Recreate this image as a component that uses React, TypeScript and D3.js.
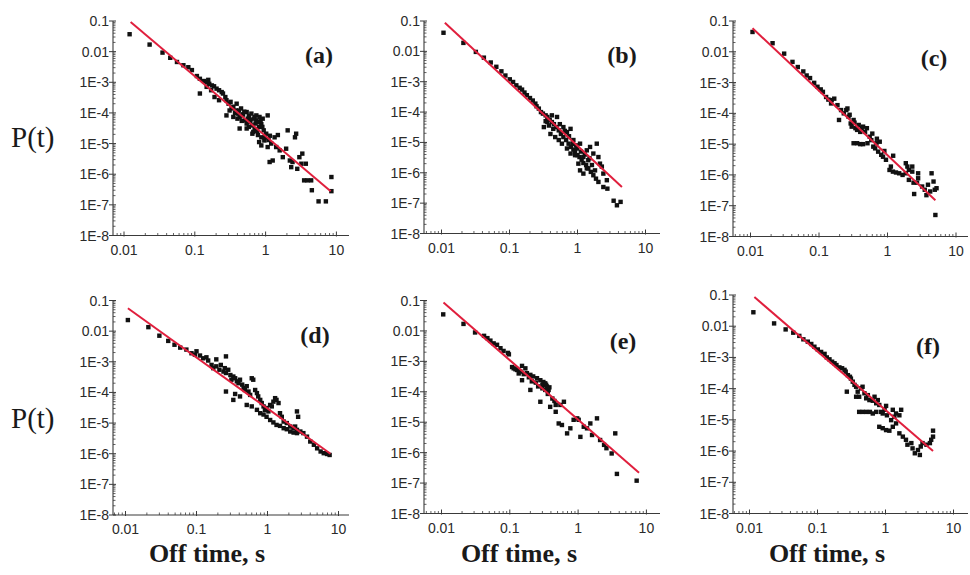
import React from "react";
import * as d3 from "d3";

// ---------- DATA ----------
const xTickValues = [0.01, 0.1, 1, 10];
const xTickLabels = ["0.01", "0.1", "1", "10"];
const yTickValues = [0.1, 0.01, 1e-3, 1e-4, 1e-5, 1e-6, 1e-7, 1e-8];
const yTickLabels = ["0.1", "0.01", "1E-3", "1E-4", "1E-5", "1E-6", "1E-7", "1E-8"];
const panelNames = ["(a)", "(b)", "(c)", "(d)", "(e)", "(f)"];
const yTitle = "P(t)";
const xTitle = "Off time, s";

const aPoints: [number, number][] = [
  [0.012, 0.037], [0.023, 0.017], [0.035, 0.0093], [0.045, 0.0063], [0.056, 0.0046], [0.069, 0.0036],
  [0.081, 0.0031], [0.091, 0.0025], [0.107, 0.0016], [0.118, 0.0013], [0.135, 0.0011], [0.147, 0.001],
  [0.16, 8.9e-4], [0.174, 7.9e-4], [0.118, 4.3e-4], [0.187, 7.4e-4], [0.203, 6.2e-4], [0.22, 5.5e-4],
  [0.24, 4.8e-4], [0.27, 3.3e-4], [0.28, 2.6e-4], [0.3, 2.0e-4], [0.32, 2.3e-4], [0.35, 1.6e-4],
  [0.38, 1.2e-4], [0.28, 8.3e-5], [0.41, 9.5e-5], [0.43, 7.4e-5], [0.47, 8.3e-5], [0.51, 5.7e-5],
  [0.54, 4.5e-5], [0.56, 6.5e-5], [0.61, 5.0e-5], [0.65, 3.9e-5], [0.7, 7.4e-5], [0.74, 5.7e-5],
  [0.81, 3.5e-5], [0.87, 4.3e-5], [0.94, 2.7e-5], [1.02, 2.1e-5], [1.07, 8.3e-5], [0.43, 3.1e-5],
  [0.65, 2.1e-5], [0.81, 1.12e-5], [0.87, 8.7e-6], [0.96, 1.26e-5], [1.07, 7.7e-6], [1.2, 1.0e-5],
  [1.34, 1.6e-5], [1.41, 7.7e-6], [1.58, 6.0e-6], [1.49, 1.9e-5], [1.75, 3.6e-6], [1.26, 2.8e-6],
  [1.14, 2.5e-6], [1.95, 6.8e-6], [2.05, 2.7e-5], [2.2, 2.8e-6], [2.4, 2.5e-6], [2.6, 1.6e-5],
  [2.7, 2.1e-5], [3.0, 3.6e-6], [3.2, 2.2e-6], [3.3, 4.7e-6], [3.7, 2.2e-6], [3.5, 6.3e-7],
  [3.9, 6.3e-7], [4.4, 6.3e-7], [4.5, 3.0e-7], [5.6, 1.3e-7], [7.1, 1.3e-7], [8.5, 8.1e-7],
  [8.5, 2.8e-7], [2.3, 1.7e-6], [2.8, 1.5e-6], [0.39, 2.0e-4], [0.45, 1.4e-4], [0.54, 1.07e-4],
  [0.63, 9.5e-5], [0.74, 8.3e-5], [0.82, 7.4e-5], [0.91, 6.5e-5], [0.67, 2.4e-5], [0.78, 1.9e-5],
  [0.87, 1.6e-5], [0.54, 3.1e-5], [0.35, 7.4e-5], [0.31, 1.2e-4], [0.25, 4.3e-4], [0.22, 2.6e-4],
  [0.19, 3.3e-4], [0.155, 0.0012], [0.17, 5.5e-4], [0.147, 7.1e-4], [0.33, 1.4e-4], [0.37, 1.0e-4],
  [0.42, 1.2e-4], [0.48, 9.0e-5], [0.5, 1.1e-4], [0.58, 8.0e-5], [0.6, 6.0e-5], [0.68, 6.5e-5],
  [0.72, 4.5e-5], [0.78, 5.0e-5], [0.85, 5.5e-5], [0.9, 3.5e-5], [0.58, 3.5e-5], [0.7, 3.0e-5],
  [0.76, 2.6e-5], [0.46, 5.5e-5], [0.4, 6.5e-5], [0.98, 1.6e-5], [1.1, 1.3e-5], [1.15, 1.8e-5],
];
const aFit: [number, number][] = [[0.0124, 0.093], [8.3, 2.8e-7]];

const bPoints: [number, number][] = [
  [0.0107, 0.041], [0.021, 0.019], [0.032, 0.0096], [0.042, 0.0062], [0.053, 0.0043], [0.064, 0.0031],
  [0.076, 0.0022], [0.087, 0.0016], [0.101, 0.0012], [0.113, 9.8e-4], [0.126, 7.6e-4], [0.141, 6.3e-4],
  [0.153, 5.5e-4], [0.166, 4.4e-4], [0.18, 3.6e-4], [0.2, 2.9e-4], [0.22, 2.4e-4], [0.24, 1.9e-4],
  [0.25, 1.55e-4], [0.27, 1.3e-4], [0.29, 1.0e-4], [0.31, 8.9e-5], [0.34, 7.8e-5], [0.36, 6.9e-5],
  [0.39, 5.6e-5], [0.42, 4.7e-5], [0.45, 4.0e-5], [0.49, 3.2e-5], [0.53, 2.5e-5], [0.57, 1.9e-5],
  [0.62, 1.5e-5], [0.68, 1.2e-5], [0.74, 9.1e-6], [0.8, 7.1e-6], [0.87, 5.8e-6], [0.92, 4.9e-6],
  [1.0, 3.8e-6], [1.07, 3.3e-6], [1.15, 2.7e-6], [1.22, 2.1e-6], [1.34, 1.8e-6], [1.44, 1.4e-6],
  [1.57, 1.07e-6], [1.71, 8.3e-7], [1.87, 6.4e-7], [2.03, 5.0e-7], [2.4, 3.4e-7], [2.75, 3.0e-7],
  [3.4, 1.2e-7], [3.8, 8.5e-8], [4.3, 1.1e-7],
  [0.32, 3.2e-5], [0.36, 4.7e-5], [0.42, 7.8e-5], [0.5, 6.9e-5], [0.53, 1.2e-5], [0.59, 9.1e-6],
  [0.62, 3.2e-5], [0.7, 2.2e-5], [0.79, 2.8e-5], [0.7, 6.3e-6], [0.87, 1.2e-5], [0.98, 6.3e-6],
  [1.09, 9.1e-6], [1.22, 3.3e-6], [1.37, 5.5e-6], [1.44, 2.6e-6], [1.53, 7.1e-6], [1.71, 4.3e-6],
  [1.92, 9.1e-6], [2.03, 3.3e-6], [2.14, 2.0e-6], [2.28, 1.6e-6], [1.09, 1.2e-6], [1.22, 9.4e-7],
  [1.37, 1.4e-6], [1.63, 1.8e-6], [1.81, 1.2e-6], [2.4, 9.4e-7], [2.7, 5.7e-7], [0.4, 1.9e-5],
  [0.47, 1.5e-5], [0.79, 4.3e-6], [0.92, 3.8e-6], [1.03, 2.0e-6], [0.34, 5.0e-5], [0.38, 3.6e-5],
  [0.44, 2.8e-5], [0.55, 4.0e-5], [0.65, 2.4e-5], [0.75, 1.6e-5], [0.85, 9.0e-6], [0.95, 8.0e-6],
  [1.12, 5.0e-6], [1.28, 4.0e-6], [1.5, 3.0e-6],
];
const bFit: [number, number][] = [[0.0112, 0.088], [4.5, 3.4e-7]];

const cPoints: [number, number][] = [
  [0.0107, 0.044], [0.021, 0.019], [0.031, 0.0087], [0.041, 0.0047], [0.049, 0.0032], [0.059, 0.0023],
  [0.066, 0.0017], [0.074, 0.0014], [0.085, 9.8e-4], [0.095, 7.3e-4], [0.106, 6.0e-4], [0.114, 5.0e-4],
  [0.127, 3.4e-4], [0.137, 2.8e-4], [0.153, 2.7e-4], [0.167, 3.0e-4], [0.15, 2.1e-4], [0.186, 1.85e-4],
  [0.196, 6.1e-5], [0.21, 1.28e-4], [0.23, 1.0e-4], [0.25, 1.28e-4], [0.26, 1.44e-4], [0.27, 7.8e-5],
  [0.29, 4.7e-5], [0.3, 3.7e-5], [0.32, 6.1e-5], [0.34, 3.3e-5], [0.36, 2.9e-5], [0.38, 4.2e-5],
  [0.4, 2.5e-5], [0.42, 3.3e-5], [0.44, 3.7e-5], [0.47, 2.5e-5], [0.5, 3.3e-5], [0.36, 1.07e-5],
  [0.32, 1.07e-5], [0.4, 1.0e-5], [0.44, 1.0e-5], [0.51, 1.07e-5], [0.55, 1.74e-5], [0.58, 1.35e-5],
  [0.62, 8.3e-6], [0.66, 7.3e-6], [0.69, 1.07e-5], [0.73, 5.7e-6], [0.77, 1.2e-5], [0.81, 4.5e-6],
  [0.86, 3.9e-6], [0.95, 3.1e-6], [1.07, 1.45e-6], [1.12, 1.87e-6], [1.2, 1.28e-6], [1.33, 1.2e-6],
  [1.48, 1.13e-6], [1.66, 1.0e-6], [1.85, 2.4e-6], [1.95, 1.87e-6], [2.05, 1.45e-6], [2.3, 1.28e-6],
  [2.4, 5.6e-7], [2.7, 5.6e-7], [2.8, 7.8e-7], [3.2, 4.2e-7], [3.5, 3.3e-7], [3.7, 2.2e-7],
  [4.2, 2.9e-7], [4.9, 3.3e-7], [4.4, 1.13e-6], [4.7, 6.1e-7], [5.2, 3.7e-7], [2.45, 2.4e-7],
  [5.0, 5.0e-8], [2.3, 1.87e-6], [2.8, 1.13e-6], [3.9, 4.8e-7], [1.85, 1.13e-6], [2.05, 6.9e-7],
  [1.21, 4.2e-6], [0.28, 9.0e-5], [0.33, 5.0e-5], [0.6, 2.2e-5], [0.7, 1.5e-5], [0.9, 6.0e-6],
];
const cFit: [number, number][] = [[0.0107, 0.058], [5.0, 1.5e-7]];

const dPoints: [number, number][] = [
  [0.0108, 0.023], [0.021, 0.0135], [0.03, 0.0071], [0.04, 0.0048], [0.049, 0.0036], [0.059, 0.0029],
  [0.072, 0.0025], [0.085, 0.0019], [0.095, 0.0017], [0.1, 0.0022], [0.112, 0.0016], [0.124, 0.0013],
  [0.138, 0.0014], [0.146, 0.0011], [0.163, 7.9e-4], [0.172, 6.2e-4], [0.19, 7.1e-4], [0.21, 5.5e-4],
  [0.22, 7.9e-4], [0.24, 4.8e-4], [0.25, 6.2e-4], [0.26, 4.3e-4], [0.28, 5.5e-4], [0.3, 3.7e-4],
  [0.31, 2.6e-4], [0.33, 3.3e-4], [0.35, 2.9e-4], [0.37, 2.3e-4], [0.39, 2.0e-4], [0.41, 2.6e-4],
  [0.44, 1.8e-4], [0.46, 1.4e-4], [0.48, 1.2e-4], [0.51, 1.6e-4], [0.54, 1.07e-4], [0.57, 8.3e-5],
  [0.6, 2.9e-4], [0.63, 2.6e-4], [0.67, 1.2e-4], [0.71, 9.5e-5], [0.74, 7.4e-5], [0.79, 5.7e-5],
  [0.83, 4.5e-5], [0.88, 3.5e-5], [0.92, 2.7e-5], [0.97, 3.1e-5], [1.03, 2.4e-5], [1.09, 3.9e-5],
  [1.15, 3.5e-5], [1.21, 5.0e-5], [1.28, 6.5e-5], [1.34, 5.7e-5], [1.43, 4.5e-5], [1.5, 2.1e-5],
  [1.59, 1.6e-5], [1.69, 1.12e-5], [1.87, 1.0e-5], [2.09, 7.7e-6], [2.33, 6.8e-6], [2.45, 7.7e-6],
  [2.6, 6.0e-6], [2.7, 1.6e-5], [2.6, 2.4e-5], [2.9, 5.3e-6], [3.2, 4.7e-6], [3.6, 3.6e-6],
  [4.0, 2.5e-6], [4.5, 1.96e-6], [5.0, 1.5e-6], [5.6, 1.18e-6], [6.2, 1.04e-6], [6.9, 9.8e-7],
  [7.5, 9.1e-7],
  [0.26, 1.07e-4], [0.33, 5.7e-5], [0.35, 8.9e-5], [0.41, 7.4e-5], [0.51, 3.9e-5], [0.6, 3.5e-5],
  [0.71, 2.7e-5], [0.79, 2.1e-5], [0.88, 1.9e-5], [0.97, 1.6e-5], [1.09, 1.26e-5], [1.21, 1.05e-5],
  [1.34, 8.7e-6], [1.5, 8.1e-6], [1.69, 6.8e-6], [1.87, 6.3e-6], [2.09, 5.3e-6], [2.33, 4.9e-6],
  [2.6, 4.7e-6], [0.19, 0.0012], [0.26, 0.0015],
];
const dFit: [number, number][] = [[0.0108, 0.056], [7.7, 1.0e-6]];

const ePoints: [number, number][] = [
  [0.0106, 0.035], [0.021, 0.017], [0.031, 0.0089], [0.042, 0.0069], [0.047, 0.0058], [0.052, 0.0048],
  [0.058, 0.0039], [0.065, 0.0035], [0.073, 0.0027], [0.081, 0.0022], [0.094, 0.0019], [0.097, 0.0017],
  [0.114, 5.9e-4], [0.128, 5.2e-4], [0.143, 4.6e-4], [0.151, 7.1e-4], [0.169, 5.9e-4], [0.178, 4.1e-4],
  [0.2, 3.6e-4], [0.22, 3.2e-4], [0.151, 2.4e-4], [0.25, 2.8e-4], [0.28, 2.4e-4], [0.31, 2.1e-4],
  [0.34, 1.7e-4], [0.37, 1.15e-4], [0.35, 1.5e-4], [0.3, 1.7e-4], [0.33, 1.15e-4], [0.2, 1.15e-4],
  [0.28, 4.7e-5], [0.39, 3.2e-5], [0.47, 3.7e-5], [0.55, 3.7e-5], [0.62, 4.7e-5], [0.47, 2.2e-5],
  [0.52, 9.1e-6], [0.58, 8.1e-6], [0.69, 4.3e-6], [0.77, 6.3e-6], [0.86, 1.2e-5], [0.97, 1.34e-5],
  [1.02, 1.2e-5], [1.08, 3.3e-6], [1.21, 7.1e-6], [1.35, 6.3e-6], [1.51, 9.1e-6], [1.6, 3.8e-6],
  [1.89, 1.34e-5], [2.1, 2.6e-6], [2.4, 1.8e-6], [2.6, 1.4e-6], [3.1, 9.4e-7], [3.5, 4.3e-6],
  [3.7, 2.0e-7], [7.2, 1.2e-7], [0.108, 6.5e-4], [0.121, 5.5e-4], [0.135, 4.0e-4], [0.16, 3.8e-4],
  [0.19, 3.0e-4], [0.21, 2.2e-4], [0.24, 2.0e-4], [0.26, 1.5e-4], [0.3, 1.3e-4], [0.33, 1.9e-4],
  [0.36, 8.5e-5], [0.42, 6.0e-5], [0.45, 5.0e-5], [0.38, 1.4e-4],
];
const eFit: [number, number][] = [[0.0107, 0.086], [7.8, 2.2e-7]];

const fPoints: [number, number][] = [
  [0.0114, 0.028], [0.023, 0.0123], [0.034, 0.0079], [0.044, 0.0062], [0.054, 0.0049], [0.062, 0.0038],
  [0.072, 0.0032], [0.081, 0.0027], [0.09, 0.0022], [0.101, 0.0018], [0.113, 0.0015], [0.127, 0.0013],
  [0.137, 0.001], [0.15, 8.7e-4], [0.164, 7.3e-4], [0.178, 6.5e-4], [0.19, 5.7e-4], [0.21, 4.8e-4],
  [0.23, 4.5e-4], [0.25, 4.0e-4], [0.26, 3.5e-4], [0.28, 2.7e-4], [0.3, 2.4e-4], [0.31, 2.1e-4],
  [0.33, 1.67e-4], [0.35, 1.32e-4], [0.27, 8.0e-5], [0.37, 1.15e-4], [0.39, 8.0e-5], [0.41, 5.5e-5],
  [0.44, 1.02e-4], [0.46, 1.15e-4], [0.49, 7.1e-5], [0.52, 4.9e-5], [0.55, 6.2e-5], [0.58, 4.3e-5],
  [0.65, 4.1e-5], [0.69, 5.5e-5], [0.73, 3.4e-5], [0.77, 4.3e-5], [0.81, 3.0e-5], [0.86, 1.8e-5],
  [0.91, 1.6e-5], [0.97, 2.1e-5], [1.02, 2.8e-5], [1.05, 1.4e-5], [0.41, 1.8e-5], [0.46, 1.8e-5],
  [0.52, 1.8e-5], [0.59, 1.8e-5], [0.65, 1.6e-5], [0.73, 1.8e-5], [0.81, 6.0e-6], [0.91, 5.4e-6],
  [1.02, 4.7e-6], [1.14, 4.5e-6], [1.21, 9.8e-6], [1.28, 6.0e-6], [1.35, 1.26e-5], [1.43, 7.7e-6],
  [1.6, 3.7e-6], [1.8, 2.9e-6], [2.0, 2.3e-6], [2.1, 1.6e-6], [2.4, 1.8e-6], [2.5, 1.22e-6],
  [2.7, 8.5e-7], [3.0, 1.08e-6], [3.2, 7.5e-7], [3.3, 1.4e-6], [3.5, 1.8e-6], [4.0, 1.6e-6],
  [4.5, 1.8e-6], [4.7, 2.3e-6], [5.0, 2.9e-6], [5.0, 4.5e-6], [1.28, 2.1e-5], [1.43, 1.6e-5],
  [1.6, 1.4e-5], [1.7, 2.1e-5], [0.37, 5.5e-5],
];
const fFit: [number, number][] = [[0.0118, 0.086], [5.0, 1.0e-6]];

const allPoints = [aPoints, bPoints, cPoints, dPoints, ePoints, fPoints];
const allFits = [aFit, bFit, cFit, dFit, eFit, fFit];

// ---------- LAYOUT (pixel geometry, not data) ----------
type Layout = { axisX: number; x0: number; dec: number; yTop: number; yBot: number; xEnd: number; lx: number; ly: number; tx: number };
const layouts: Layout[] = [
  { axisX: 113, x0: 124, dec: 70.8, yTop: 21, yBot: 235.5, xEnd: 349, lx: 319, ly: 63, tx: 0 },
  { axisX: 424, x0: 441.5, dec: 68, yTop: 21, yBot: 233.5, xEnd: 660, lx: 622, ly: 63, tx: 0 },
  { axisX: 733, x0: 750.5, dec: 68.5, yTop: 21, yBot: 236.5, xEnd: 968, lx: 934, ly: 66, tx: 0 },
  { axisX: 113, x0: 125.5, dec: 71, yTop: 300.5, yBot: 515, xEnd: 349, lx: 315, ly: 343, tx: 207 },
  { axisX: 424, x0: 441.5, dec: 68.3, yTop: 300.5, yBot: 513.5, xEnd: 660, lx: 623, ly: 349, tx: 519 },
  { axisX: 733, x0: 749.5, dec: 68, yTop: 295, yBot: 513.5, xEnd: 968, lx: 928, ly: 354, tx: 827 },
];

const AXIS = "#3a3a3a";
const TXT = "#2a2a2a";
const RED = "#e01f3d";
const SANS = "'Liberation Sans', Arial, sans-serif";
const SERIF = "'Liberation Serif', 'Times New Roman', serif";

function Panel({ i }: { i: number }) {
  const L = layouts[i];
  const x = d3.scaleLog().domain([0.01, 10]).range([L.x0, L.x0 + 3 * L.dec]);
  const y = d3.scaleLog().domain([1e-8, 0.1]).range([L.yBot, L.yTop]);
  const line = d3
    .line<[number, number]>()
    .x((d) => x(d[0]))
    .y((d) => y(d[1]));

  const xMinor: number[] = [];
  for (let e = -3; e <= 1; e++) {
    for (let k = 2; k <= 9; k++) {
      const v = k * Math.pow(10, e);
      const px = x(v);
      if (px > L.axisX + 1 && px < L.xEnd) xMinor.push(v);
    }
  }
  const yMinor: number[] = [];
  for (let e = -8; e <= -2; e++) {
    for (let k = 2; k <= 9; k++) yMinor.push(k * Math.pow(10, e));
  }
  const sq = 4.4;
  const isBottom = i >= 3;

  return (
    <g>
      <line x1={L.axisX} x2={L.axisX} y1={L.yTop} y2={L.yBot} stroke={AXIS} strokeWidth={1.1} />
      <line x1={L.axisX} x2={L.xEnd} y1={L.yBot} y2={L.yBot} stroke={AXIS} strokeWidth={1.1} />
      {yTickValues.map((v) => (
        <line key={"ym" + v} x1={L.axisX - 4} x2={L.axisX + 3} y1={y(v)} y2={y(v)} stroke={AXIS} strokeWidth={1} />
      ))}
      {yMinor.map((v) => (
        <line key={"yn" + v} x1={L.axisX} x2={L.axisX + 2.5} y1={y(v)} y2={y(v)} stroke={AXIS} strokeWidth={0.8} />
      ))}
      {xTickValues.map((v) => (
        <line key={"xm" + v} x1={x(v)} x2={x(v)} y1={L.yBot - 4} y2={L.yBot + 1} stroke={AXIS} strokeWidth={1} />
      ))}
      {xMinor.map((v) => (
        <line key={"xn" + v} x1={x(v)} x2={x(v)} y1={L.yBot - 2.5} y2={L.yBot} stroke={AXIS} strokeWidth={0.8} />
      ))}
      {yTickValues.map((v, j) => (
        <text key={"yl" + v} x={L.axisX - 4} y={y(v) + 5} textAnchor="end" fontFamily={SANS} fontSize={14} fill={TXT}>
          {yTickLabels[j]}
        </text>
      ))}
      {xTickValues.map((v, j) => (
        <text key={"xl" + v} x={x(v)} y={L.yBot + 19} textAnchor="middle" fontFamily={SANS} fontSize={14} fill={TXT}>
          {xTickLabels[j]}
        </text>
      ))}
      {allPoints[i].map((d, j) => (
        <rect key={"p" + j} x={x(d[0]) - sq / 2} y={y(d[1]) - sq / 2} width={sq} height={sq} fill="#111" />
      ))}
      <path d={line(allFits[i]) || ""} stroke={RED} strokeWidth={2} fill="none" />
      <text x={L.lx} y={L.ly} textAnchor="middle" fontFamily={SERIF} fontWeight="bold" fontSize={24} fill="#1a1a1a">
        {panelNames[i]}
      </text>
      {isBottom && (
        <text x={L.tx} y={562} textAnchor="middle" fontFamily={SERIF} fontWeight="bold" fontSize={26} fill="#1a1a1a">
          {xTitle}
        </text>
      )}
    </g>
  );
}

export default function App() {
  return (
    <svg width={970} height={575} style={{ position: "absolute", left: 0, top: 0, background: "#fff" }}>
      <rect x={0} y={0} width={970} height={575} fill="#fff" />
      {[0, 1, 2, 3, 4, 5].map((i) => (
        <Panel key={i} i={i} />
      ))}
      <text x={11} y={147} fontFamily={SERIF} fontSize={29} fill="#1a1a1a">
        {yTitle}
      </text>
      <text x={11} y={428} fontFamily={SERIF} fontSize={29} fill="#1a1a1a">
        {yTitle}
      </text>
    </svg>
  );
}
